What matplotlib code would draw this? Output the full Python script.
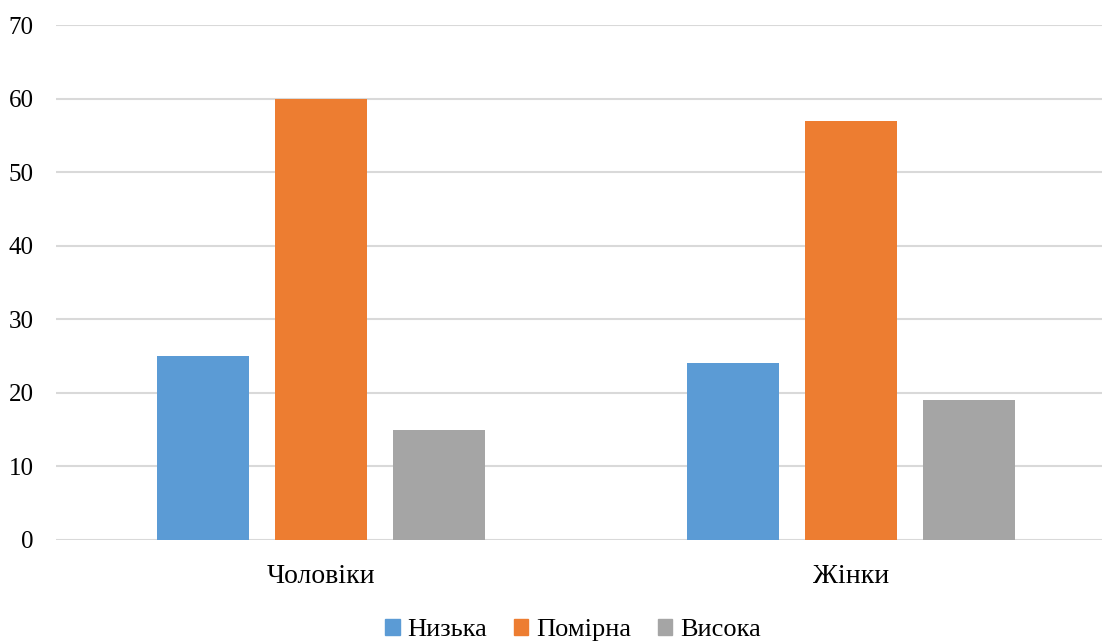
import matplotlib.pyplot as plt
import numpy as np
from matplotlib.patches import Patch

plt.rcParams['font.family'] = ['Liberation Serif', 'DejaVu Serif']

categories = ['Чоловіки', 'Жінки']
series_names = ['Низька', 'Помірна', 'Висока']
low = [25, 24]
moderate = [60, 57]
high = [15, 19]
colors = ['#5B9BD5', '#ED7D31', '#A5A5A5']

W, H = 1102, 642
fig = plt.figure(figsize=(W / 100, H / 100), dpi=100)
# plot area runs past the right edge of the picture (cropped original)
left, right, top, bottom = 56, 1116, 25, 540
ax = fig.add_axes([left / W, 1 - bottom / H, (right - left) / W, (bottom - top) / H])

x = np.arange(len(categories))
width = 0.174
step = 0.222
for i, (vals, name) in enumerate(zip([low, moderate, high], series_names)):
    ax.bar(x + (i - 1) * step, vals, width=width, color=colors[i], label=name, zorder=3)

ax.set_xlim(-0.5, 1.5)
ax.set_ylim(0, 70)
ax.set_yticks(range(0, 71, 10))
ax.yaxis.grid(True, color='#d9d9d9', linewidth=1.5, zorder=0)
for s in ax.spines.values():
    s.set_visible(False)
ax.tick_params(axis='both', length=0)
ax.tick_params(axis='y', pad=16, labelsize=18)
ax.tick_params(axis='x', pad=17, labelsize=20)
ax.set_xticks(x)
ax.set_xticklabels(categories)

handles = [Patch(color=c) for c in colors]
fig.legend(handles, series_names, loc='center', bbox_to_anchor=(573 / W, 1 - 630 / H),
           ncol=3, frameon=False, fontsize=19, handlelength=0.55, handleheight=0.55,
           handletextpad=0.3, columnspacing=1.0)

fig.savefig('out.png', dpi=100)
